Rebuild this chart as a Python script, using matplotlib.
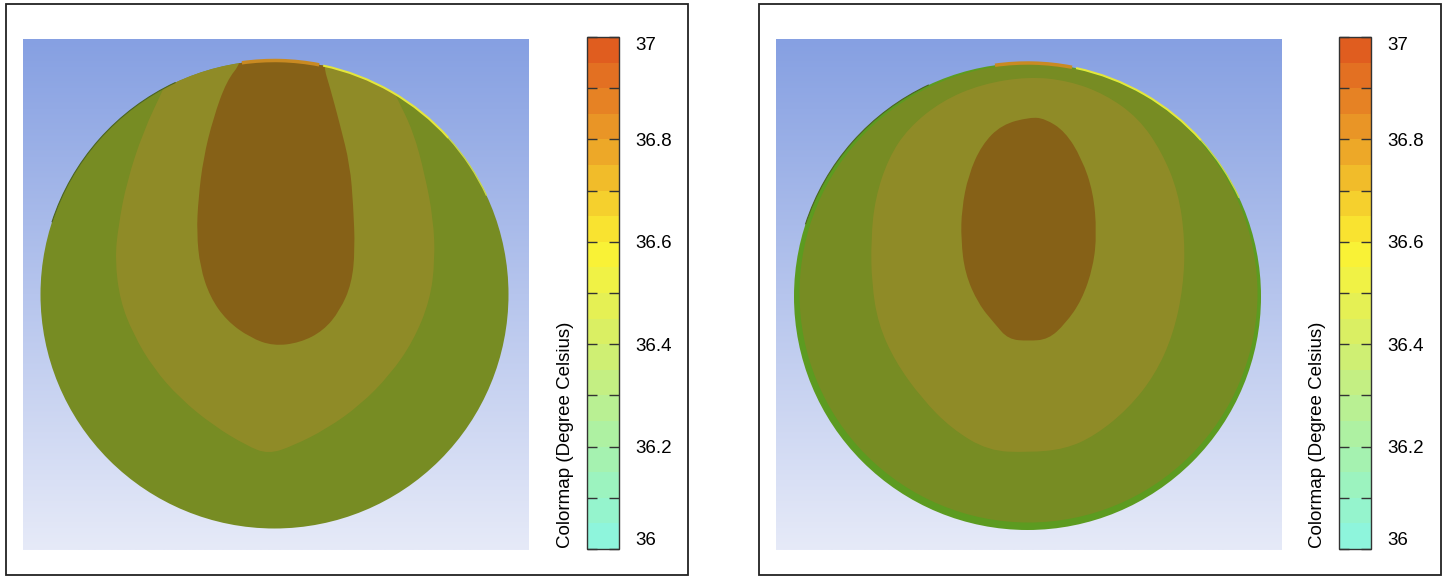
import numpy as np
import matplotlib
matplotlib.use("Agg")
import matplotlib.pyplot as plt
from matplotlib.colors import ListedColormap, BoundaryNorm, LinearSegmentedColormap
from matplotlib.patches import PathPatch, Circle, Rectangle, Arc
from matplotlib.path import Path
from matplotlib.cm import ScalarMappable

plt.rcParams['font.family'] = ['Liberation Sans', 'DejaVu Sans']

# ---------------- data ----------------
# colour scale (degree Celsius)
cbar_bounds = [36.00, 36.05, 36.10, 36.15, 36.20, 36.25, 36.30, 36.35, 36.40, 36.45,
               36.50, 36.55, 36.60, 36.65, 36.70, 36.75, 36.80, 36.85, 36.90, 36.95, 37.00]
cbar_colors = ['#8ef5dc', '#95f4cd', '#9cf3bf', '#a5f2b0', '#aef1a2', '#b9f093', '#c4ef83',
               '#cfef73', '#daef63', '#e5f054', '#f0f245', '#f9f236', '#f9e330', '#f5d02d',
               '#f1bc2a', '#eda828', '#e99526', '#e68224', '#e37022', '#e05d1f']
major_ticks = [36.0, 36.2, 36.4, 36.6, 36.8, 37.0]
major_labels = ['36', '36.2', '36.4', '36.6', '36.8', '37']
minor_ticks = [36.1, 36.3, 36.5, 36.7, 36.9]
cbar_label = 'Colormap (Degree Celsius)'

# contour outlines (image pixel coordinates)
left_circle = (274.5, 294.5, 234.0)
left_mid_x = [175, 163.3, 143.3, 126.7, 118.3, 115.0, 120.0, 133.3, 153.3, 180.0, 213.3, 246.7,
              268.3, 293.3, 326.7, 360.0, 390.0, 413.3, 430.0, 435.0, 433.3, 425.0, 413.3,
              396.7, 385, 385, 175]
left_mid_y = [63, 89.2, 131.4, 182.1, 226.0, 259.8, 300.4, 334.2, 368.0, 398.4, 425.5, 445.7,
              454.2, 445.7, 428.8, 405.2, 374.8, 341.0, 300.4, 259.8, 219.3, 175.3, 131.4,
              97.6, 72, 45, 45]
left_core_x = [238, 241.7, 226.7, 213.3, 203.3, 198.3, 196.7, 200.0, 210.0, 226.7, 250.0, 273.3,
               300.0, 323.3, 340.0, 351.7, 355.0, 353.3, 350.0, 340.0, 330.0, 323.3, 327]
left_core_y = [45, 62.1, 80.7, 117.9, 158.4, 199.0, 232.8, 266.6, 297.0, 320.7, 337.6, 346.0,
               342.7, 330.8, 310.5, 283.5, 249.7, 205.8, 165.2, 124.6, 87.5, 65.5, 45]

right_circle = (1027.5, 296.5, 233.5)
right_mid_x = [1028.3, 981.7, 941.7, 908.3, 888.3, 875.0, 871.0, 871.7, 878.3, 895.0, 921.7,
               951.7, 988.3, 1028.3, 1065.0, 1095.0, 1128.3, 1155.0, 1173.3, 1183.3, 1185.0,
               1178.3, 1161.7, 1138.3, 1105.0, 1068.3]
right_mid_y = [76.6, 84.1, 101.0, 128.0, 158.4, 199.0, 239.6, 283.5, 324.1, 361.2, 398.4,
               428.8, 450.8, 452.5, 449.1, 435.6, 408.6, 374.8, 334.2, 286.9, 239.6,
               192.2, 151.7, 117.9, 94.2, 80.7]
right_core_x = [1030.0, 1001.7, 981.7, 968.3, 961.7, 961.0, 965.0, 978.3, 995.0, 1008.3, 1028.3,
                1048.3, 1065.0, 1081.7, 1093.3, 1096.7, 1093.3, 1081.7, 1065.0, 1045.0]
right_core_y = [117.2, 124.6, 144.9, 175.3, 209.1, 239.6, 273.4, 303.8, 324.1, 339.3, 341.0,
                339.3, 324.1, 300.4, 266.6, 232.8, 192.2, 158.4, 131.4, 118.6]

# ---------------- layout / style ----------------
W, H = 1447, 576
fig = plt.figure(figsize=(W / 100, H / 100), dpi=100)


def fx(px):
    return px / W


def fy(py):
    return 1 - py / H


OUTER = '#778c23'
MID = '#8f8b27'
CORE = '#866117'
RIM = '#5c9b20'
bg_cmap = LinearSegmentedColormap.from_list('bg', ['#86a0e2', '#e6eaf8'])
grad = np.linspace(0, 1, 256).reshape(-1, 1)

cmap = ListedColormap(cbar_colors)
norm = BoundaryNorm(cbar_bounds, cmap.N)


def smooth_path(xs, ys):
    """Closed outline drawn with quadratic Bezier segments using the read points as controls."""
    pts = np.column_stack([xs, ys]).astype(float)
    n = len(pts)
    mids = (pts + np.roll(pts, -1, axis=0)) / 2.0
    verts = [mids[-1]]
    codes = [Path.MOVETO]
    for i in range(n):
        verts += [pts[i], mids[i]]
        codes += [Path.CURVE3, Path.CURVE3]
    verts.append(mids[-1])
    codes.append(Path.CLOSEPOLY)
    return Path(np.array(verts), codes)


def image_axes(x0, x1, y0, y1):
    ax = fig.add_axes([fx(x0), fy(y1), fx(x1) - fx(x0), fy(y0) - fy(y1)])
    ax.imshow(grad, cmap=bg_cmap, extent=(x0, x1, y1, y0), aspect='auto',
              origin='upper', zorder=0)
    ax.set_xlim(x0, x1)
    ax.set_ylim(y1, y0)
    ax.axis('off')
    return ax


def draw_panel(ax, circ, mid_x, mid_y, core_x, core_y, rim=False):
    cx, cy, r = circ
    if rim:
        ax.add_patch(Circle((cx, cy), r, facecolor=RIM, edgecolor='none', zorder=1))
        base = Circle((cx + 1.0, cy - 3.0), r - 4.5, facecolor=OUTER, edgecolor='none', zorder=2)
    else:
        base = Circle((cx, cy), r, facecolor=OUTER, edgecolor='none', zorder=2)
    ax.add_patch(base)
    clip = Circle((cx, cy), r, facecolor='none', edgecolor='none')
    ax.add_patch(clip)
    p1 = PathPatch(smooth_path(mid_x, mid_y), facecolor=MID, edgecolor='none', zorder=3)
    ax.add_patch(p1)
    p1.set_clip_path(clip)
    p2 = PathPatch(smooth_path(core_x, core_y), facecolor=CORE, edgecolor='none', zorder=4)
    ax.add_patch(p2)
    p2.set_clip_path(clip)
    # edge highlights
    ax.add_patch(Arc((cx, cy), 2 * r, 2 * r, theta1=282, theta2=318, color='#e4e63c',
                     lw=1.5, zorder=5))
    ax.add_patch(Arc((cx, cy), 2 * r, 2 * r, theta1=318, theta2=335, color='#c8d84a',
                     lw=1.0, zorder=5))
    ax.add_patch(Arc((cx, cy), 2 * r, 2 * r, theta1=262, theta2=281, color='#c98a22',
                     lw=2.5, zorder=5))
    ax.add_patch(Arc((cx, cy), 2 * r, 2 * r, theta1=198, theta2=245, color='#4a6420',
                     lw=0.8, zorder=5))


def colorbar(x0, x1, y0, y1, label_x):
    cax = fig.add_axes([fx(x0), fy(y1), fx(x1) - fx(x0), fy(y0) - fy(y1)])
    cb = fig.colorbar(ScalarMappable(norm=norm, cmap=cmap), cax=cax)
    cb.set_ticks(major_ticks, labels=major_labels)
    cb.set_ticks(minor_ticks, minor=True)
    cax.tick_params(which='both', direction='in', left=True, right=True, length=7,
                    width=1.0, color='#333333', labelsize=13.5, pad=12)
    cb.outline.set_linewidth(1.0)
    cb.outline.set_edgecolor('#333333')
    labs = cax.get_yticklabels()
    labs[0].set_va('bottom')
    labs[-1].set_va('top')
    fig.text(fx(label_x), fy(548), cbar_label, rotation=90, ha='center', va='bottom',
             fontsize=13.5)


# left panel
axL = image_axes(22.7, 528.5, 39, 550)
draw_panel(axL, left_circle, left_mid_x, left_mid_y, left_core_x, left_core_y)
colorbar(587, 619, 37, 549, 565)

# right panel
axR = image_axes(775.7, 1281, 39, 550)
draw_panel(axR, right_circle, right_mid_x, right_mid_y, right_core_x, right_core_y, rim=True)
colorbar(1339, 1371, 37, 549, 1318)

# panel frames
for x0, x1 in [(6, 688), (759, 1441)]:
    fig.add_artist(Rectangle((fx(x0), fy(575)), fx(x1) - fx(x0), fy(4) - fy(575),
                             transform=fig.transFigure, fill=False, edgecolor='#222222',
                             linewidth=1.3))

fig.savefig('out.png', dpi=100)
